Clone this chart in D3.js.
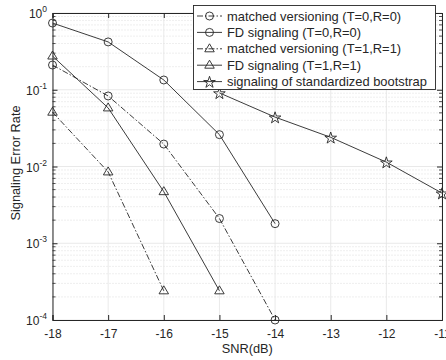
<!DOCTYPE html>
<html>
<head>
<meta charset="utf-8">
<script src="https://cdn.jsdelivr.net/npm/d3@7"></script>
<style>
  body { margin: 0; background: #fff; }
  svg { display: block; font-family: "Liberation Sans", Arial, sans-serif; }
</style>
</head>
<body>
<div id="root"></div>
<script>
// SNR points (dB)
const snr = [-18, -17, -16, -15, -14, -13, -12, -11]

// signaling error rate per curve
const matchedT0 = [0.21, 0.083, 0.0196, 0.0021, 0.0001]
const fdT0 = [0.74, 0.42, 0.134, 0.026, 0.0018]
const matchedT1 = [0.051, 0.0085, 0.00024]
const fdT1 = [0.275, 0.058, 0.0047, 0.00024]
const bootstrapSnr = [-15, -14, -13, -12, -11]
const bootstrap = [0.091, 0.044, 0.024, 0.0114, 0.0045]

const seriesNames = [
    'matched versioning (T=0,R=0)',
    'FD signaling (T=0,R=0)',
    'matched versioning (T=1,R=1)',
    'FD signaling (T=1,R=1)',
    'signaling of standardized bootstrap'
]
const xTicks = [-18, -17, -16, -15, -14, -13, -12, -11]
const yTicks = [1e-4, 1e-3, 1e-2, 1e-1, 1]

const w = 446
const h = 360
const pLeft = 52.5, pRight = 442, pTop = 13, pBottom = 320
const ink = '#262626'

const series = [
    { name: seriesNames[0], x: snr, y: matchedT0, dash: '6,2,1.5,2', marker: 'circle' },
    { name: seriesNames[1], x: snr, y: fdT0, dash: null, marker: 'circle' },
    { name: seriesNames[2], x: snr, y: matchedT1, dash: '6,2,1.5,2', marker: 'triangle' },
    { name: seriesNames[3], x: snr, y: fdT1, dash: null, marker: 'triangle' },
    { name: seriesNames[4], x: bootstrapSnr, y: bootstrap, dash: null, marker: 'star' }
]

const xScale = d3.scaleLinear().domain([-18, -11]).range([pLeft, pRight])
const yScale = d3.scaleLog().domain([1e-4, 1]).range([pBottom, pTop])

const svg = d3.select('#root').append('svg')
    .attr('width', w)
    .attr('height', h)

// minor grid (dotted) for log decades
const minorVals = []
for (let e = -4; e < 0; e++) {
    for (let m = 2; m <= 9; m++) minorVals.push(m * Math.pow(10, e))
}
svg.append('g').selectAll('line')
    .data(minorVals)
    .enter()
    .append('line')
    .attr('x1', pLeft).attr('x2', pRight)
    .attr('y1', d => yScale(d)).attr('y2', d => yScale(d))
    .attr('stroke', '#c8c8c8')
    .attr('stroke-width', 0.6)
    .attr('stroke-dasharray', '1,2')

// major grid
svg.append('g').selectAll('line')
    .data(yTicks)
    .enter()
    .append('line')
    .attr('x1', pLeft).attr('x2', pRight)
    .attr('y1', d => yScale(d)).attr('y2', d => yScale(d))
    .attr('stroke', '#e3e3e3')
    .attr('stroke-width', 0.8)
svg.append('g').selectAll('line')
    .data(xTicks)
    .enter()
    .append('line')
    .attr('x1', d => xScale(d)).attr('x2', d => xScale(d))
    .attr('y1', pTop).attr('y2', pBottom)
    .attr('stroke', '#e3e3e3')
    .attr('stroke-width', 0.8)

// axes with inward ticks on all sides
const xAxisB = d3.axisBottom(xScale).tickValues(xTicks).tickSize(-5).tickPadding(9).tickFormat(d => '-' + Math.abs(d))
const xAxisT = d3.axisTop(xScale).tickValues(xTicks).tickSize(-5).tickFormat('')
const yAxisL = d3.axisLeft(yScale).tickValues(yTicks).tickSize(-5).tickFormat('')
const yAxisR = d3.axisRight(yScale).tickValues(yTicks).tickSize(-5).tickFormat('')

function styleAxis(g) {
    g.select('.domain').attr('stroke', ink)
    g.selectAll('.tick line').attr('stroke', ink)
    g.selectAll('text').attr('fill', ink).attr('font-size', 12).attr('font-family', 'Liberation Sans, Arial, sans-serif')
}

svg.append('g').attr('transform', 'translate(0,' + pBottom + ')').call(xAxisB).call(styleAxis)
svg.append('g').attr('transform', 'translate(0,' + pTop + ')').call(xAxisT).call(styleAxis)
svg.append('g').attr('transform', 'translate(' + pLeft + ',0)').call(yAxisL).call(styleAxis)
svg.append('g').attr('transform', 'translate(' + pRight + ',0)').call(yAxisR).call(styleAxis)

// minor y ticks
;[[pLeft, 3], [pRight, -3]].forEach(([x0, len]) => {
    svg.append('g').selectAll('line')
        .data(minorVals)
        .enter()
        .append('line')
        .attr('x1', x0).attr('x2', x0 + len)
        .attr('y1', d => yScale(d)).attr('y2', d => yScale(d))
        .attr('stroke', ink)
        .attr('stroke-width', 0.8)
})

// y tick labels as 10^n
const yLab = svg.append('g').selectAll('text')
    .data(yTicks)
    .enter()
    .append('text')
    .attr('x', 47)
    .attr('y', d => yScale(d) + 5)
    .attr('text-anchor', 'end')
    .attr('fill', ink)
    .attr('font-size', 12)
yLab.append('tspan').text('10')
yLab.append('tspan')
    .attr('dy', -6)
    .attr('font-size', 8.5)
    .text(d => String(Math.round(Math.log10(d))))

// axis titles
svg.append('text')
    .attr('x', (pLeft + pRight) / 2)
    .attr('y', 353)
    .attr('text-anchor', 'middle')
    .attr('fill', ink)
    .attr('font-size', 12.8)
    .text('SNR(dB)')
svg.append('text')
    .attr('transform', 'rotate(-90)')
    .attr('x', -163)
    .attr('y', 20)
    .attr('text-anchor', 'middle')
    .attr('fill', ink)
    .attr('font-size', 12.8)
    .text('Signaling Error Rate')

// markers
const starPath = d3.symbol().type(d3.symbolStar).size(42)()
function drawMarker(g, type, x, y) {
    if (type === 'circle') {
        g.append('circle').attr('cx', x).attr('cy', y).attr('r', 4)
            .attr('fill', 'none').attr('stroke', ink).attr('stroke-width', 0.9)
    } else if (type === 'triangle') {
        const r = 5
        g.append('path')
            .attr('d', `M${x},${y - r}L${x + r * 0.95},${y + r * 0.6}L${x - r * 0.95},${y + r * 0.6}Z`)
            .attr('fill', 'none').attr('stroke', ink).attr('stroke-width', 0.9)
    } else {
        g.append('path').attr('d', starPath)
            .attr('transform', `translate(${x},${y + 0.8})`)
            .attr('fill', 'none').attr('stroke', ink).attr('stroke-width', 0.9)
    }
}

const line = d3.line()
    .x(d => xScale(d[0]))
    .y(d => yScale(d[1]))

series.forEach(s => {
    const pts = s.y.map((v, i) => [s.x[i], v])
    const g = svg.append('g')
    g.append('path')
        .datum(pts)
        .attr('d', line)
        .attr('fill', 'none')
        .attr('stroke', ink)
        .attr('stroke-width', 0.9)
        .attr('stroke-dasharray', s.dash)
    pts.forEach(p => drawMarker(g, s.marker, xScale(p[0]), yScale(p[1])))
})

// legend
const lg = svg.append('g')
lg.append('rect')
    .attr('x', 193.5).attr('y', 5.5)
    .attr('width', 242).attr('height', 84)
    .attr('fill', '#fff')
    .attr('stroke', ink)
    .attr('stroke-width', 0.9)
series.forEach((s, i) => {
    const yy = 16 + i * 16.4
    lg.append('line')
        .attr('x1', 197).attr('x2', 222)
        .attr('y1', yy).attr('y2', yy)
        .attr('stroke', ink)
        .attr('stroke-width', 0.9)
        .attr('stroke-dasharray', s.dash)
    drawMarker(lg, s.marker, 209.5, yy)
    lg.append('text')
        .attr('x', 227)
        .attr('y', yy + 4.5)
        .attr('fill', ink)
        .attr('font-size', 12.9)
        .text(s.name)
})
</script>
</body>
</html>
